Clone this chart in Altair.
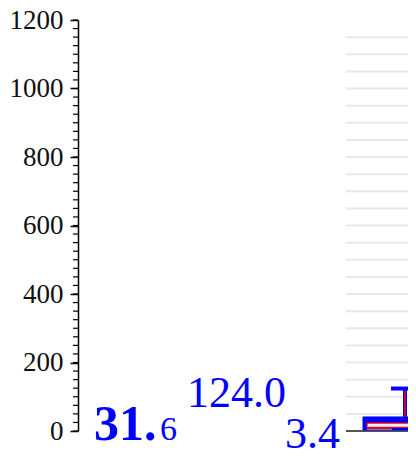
import altair as alt
import pandas as pd

# ---- data ----
y_ticks = [0, 200, 400, 600, 800, 1000, 1200]
minor_ticks = [v for v in range(0, 1201, 25)]
grid_values = [50, 100, 150, 200, 250, 300, 350, 400, 450, 500, 550, 600,
               650, 700, 750, 800, 850, 900, 950, 1000, 1050, 1100, 1150]
stat_mean = 31.6
stat_max = 124.0
stat_min = 3.4
box_low = 3
box_high = 41
inner_low = 11
inner_high = 23

FONT = "Liberation Serif"
BLUE = "#0000ff"

yscale = alt.Scale(domain=[0, 1200], nice=False, zero=True)
W, H = 330, 411

axis_layer = alt.Chart(pd.DataFrame({"v": y_ticks})).mark_point(opacity=0).encode(
    y=alt.Y("v:Q", scale=yscale, title=None,
            axis=alt.Axis(values=y_ticks, format="d", tickSize=8, tickColor="#000", tickWidth=1.5,
                          domainColor="#000", domainWidth=1.5, grid=False,
                          labelFont=FONT, labelFontSize=27, labelColor="#111",
                          labelPadding=7, labelFlush=False)),
    x=alt.value(-100),
)

minor = alt.Chart(pd.DataFrame({"v": minor_ticks})).mark_rule(color="#000", strokeWidth=1.2).encode(
    y=alt.Y("v:Q", scale=yscale), x=alt.value(-5), x2=alt.value(0))

grid = alt.Chart(pd.DataFrame({"v": grid_values})).mark_rule(color="#e8e8e8", strokeWidth=2).encode(
    y=alt.Y("v:Q", scale=yscale), x=alt.value(268), x2=alt.value(W + 10))

baseline = alt.Chart(pd.DataFrame({"v": [0]})).mark_rule(color="#555", strokeWidth=2).encode(
    y=alt.Y("v:Q", scale=yscale), x=alt.value(268), x2=alt.value(W + 10))

outer = alt.Chart(pd.DataFrame({"a": [box_low], "b": [box_high]})).mark_rect(
    fill=BLUE, stroke=BLUE, strokeWidth=1).encode(
    y=alt.Y("a:Q", scale=yscale), y2="b:Q", x=alt.value(285), x2=alt.value(W + 10))

inner = alt.Chart(pd.DataFrame({"a": [inner_low], "b": [inner_high]})).mark_rect(
    fill="#eeeeee", stroke="red", strokeWidth=1.2).encode(
    y=alt.Y("a:Q", scale=yscale), y2="b:Q", x=alt.value(289), x2=alt.value(W + 10))

low_line = alt.Chart(pd.DataFrame({"v": [box_low + 2]})).mark_rule(color="#e05a5a", strokeWidth=1.5).encode(
    y=alt.Y("v:Q", scale=yscale), x=alt.value(289), x2=alt.value(314))

whisker_b = alt.Chart(pd.DataFrame({"a": [box_high], "b": [stat_max]})).mark_rule(
    color=BLUE, strokeWidth=4).encode(
    y=alt.Y("a:Q", scale=yscale), y2="b:Q", x=alt.value(327))
whisker_r = alt.Chart(pd.DataFrame({"a": [box_high], "b": [stat_max]})).mark_rule(
    color="red", strokeWidth=1.5).encode(
    y=alt.Y("a:Q", scale=yscale), y2="b:Q", x=alt.value(327))
cap = alt.Chart(pd.DataFrame({"v": [stat_max]})).mark_rule(color=BLUE, strokeWidth=4).encode(
    y=alt.Y("v:Q", scale=yscale), x=alt.value(313), x2=alt.value(W + 10))

mean_str = f"{stat_mean:.1f}"
int_part, dec_part = mean_str.split(".")
t_mean_a = alt.Chart(pd.DataFrame({"v": [stat_mean], "t": [int_part + "."]})).mark_text(
    font=FONT, fontSize=50, fontWeight="bold", color=BLUE, align="left",
    baseline="alphabetic", dy=20).encode(
    y=alt.Y("v:Q", scale=yscale), x=alt.value(16), text="t:N")
t_mean_b = alt.Chart(pd.DataFrame({"v": [stat_mean], "t": [dec_part]})).mark_text(
    font=FONT, fontSize=34, color=BLUE, align="left", baseline="alphabetic", dy=20).encode(
    y=alt.Y("v:Q", scale=yscale), x=alt.value(82), text="t:N")
t_max = alt.Chart(pd.DataFrame({"v": [stat_max], "t": [f"{stat_max:.1f}"]})).mark_text(
    font=FONT, fontSize=44, color=BLUE, align="left", baseline="alphabetic", dy=18).encode(
    y=alt.Y("v:Q", scale=yscale), x=alt.value(109), text="t:N")
t_min = alt.Chart(pd.DataFrame({"v": [stat_min], "t": [f"{stat_min:.1f}"]})).mark_text(
    font=FONT, fontSize=44, color=BLUE, align="right", baseline="alphabetic", dy=18).encode(
    y=alt.Y("v:Q", scale=yscale), x=alt.value(262), text="t:N")

chart = alt.layer(
    axis_layer, minor, grid, baseline, outer, inner, low_line, whisker_b, whisker_r, cap,
    t_mean_a, t_mean_b, t_max, t_min
).properties(
    width=W, height=H,
    autosize=alt.AutoSizeParams(type="none"),
    padding={"left": 70, "top": 12, "right": 0, "bottom": 20},
).configure_view(stroke=None)

chart.save("out.html", embed_options={"renderer": "svg", "actions": False})
